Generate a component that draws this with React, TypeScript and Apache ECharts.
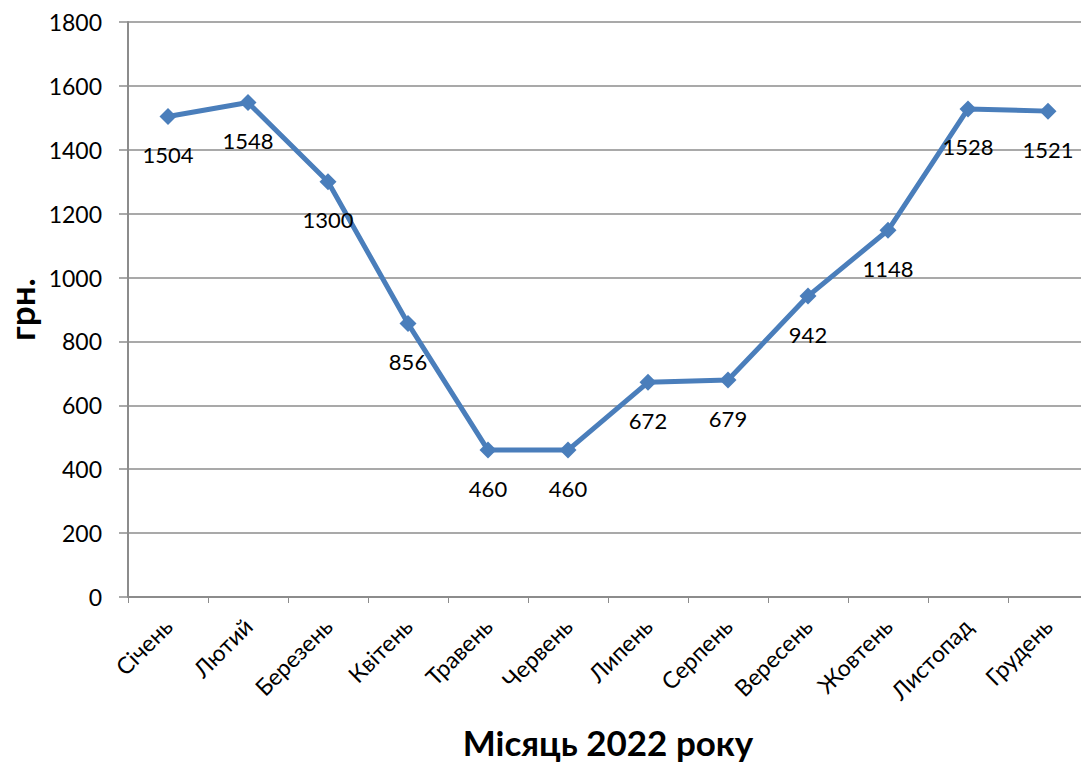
import React, { useEffect, useRef } from "react";
import * as echarts from "echarts";

const months = [
  "Січень",
  "Лютий",
  "Березень",
  "Квітень",
  "Травень",
  "Червень",
  "Липень",
  "Серпень",
  "Вересень",
  "Жовтень",
  "Листопад",
  "Грудень",
];
const prices = [1504, 1548, 1300, 856, 460, 460, 672, 679, 942, 1148, 1528, 1521];
const yTicks = { min: 0, max: 1800, interval: 200 };
const xTitle = "Місяць 2022 року";
const yTitle = "грн.";

const FONT = "Lato, 'Open Sans', sans-serif";

export default function App() {
  const ref = useRef<HTMLDivElement>(null);
  useEffect(() => {
    if (!ref.current) return;
    const chart = echarts.init(ref.current, undefined, { renderer: "svg" });
    chart.setOption({
      animation: false,
      backgroundColor: "#ffffff",
      textStyle: { fontFamily: FONT },
      grid: {
        left: 128,
        top: 22,
        width: 960,
        height: 575,
        containLabel: false,
        outerBoundsMode: "none",
      },
      xAxis: {
        type: "category",
        data: months,
        boundaryGap: true,
        name: xTitle,
        nameLocation: "middle",
        nameGap: 127,
        nameMoveOverlap: false,
        nameTextStyle: { fontFamily: FONT, fontSize: 35, fontWeight: "bold", color: "#000" },
        axisLine: { lineStyle: { color: "#8c8c8c", width: 2 } },
        axisTick: { show: true, alignWithLabel: false, length: 6, lineStyle: { color: "#8c8c8c" } },
        axisLabel: {
          rotate: 45,
          margin: 25,
          fontFamily: FONT,
          fontSize: 23,
          color: "#000",
          interval: 0,
        },
        splitLine: { show: false },
      },
      yAxis: {
        type: "value",
        min: yTicks.min,
        max: yTicks.max,
        interval: yTicks.interval,
        name: yTitle,
        nameLocation: "middle",
        nameGap: 90,
        nameRotate: 90,
        nameMoveOverlap: false,
        nameTextStyle: { fontFamily: FONT, fontSize: 35, fontWeight: "bold", color: "#000" },
        axisLine: { show: true, lineStyle: { color: "#8c8c8c", width: 2 } },
        axisTick: { show: true, length: 9, lineStyle: { color: "#8c8c8c", width: 1.5 } },
        axisLabel: {
          fontFamily: FONT,
          fontSize: 23,
          color: "#000",
          margin: 26,
          formatter: (v: number) => String(v),
        },
        splitLine: { show: true, lineStyle: { color: "#8c8c8c", width: 1.5 } },
      },
      series: [
        {
          type: "line",
          data: prices,
          symbol: "diamond",
          symbolSize: 17,
          itemStyle: { color: "#4a7ebb" },
          lineStyle: { color: "#4a7ebb", width: 5 },
          label: {
            show: true,
            position: "inside",
            offset: [0, 38],
            fontFamily: FONT,
            fontSize: 22,
            color: "#000",
          },
        },
      ],
    });
    return () => chart.dispose();
  }, []);
  return (
    <div
      ref={ref}
      style={{ position: "fixed", left: 0, top: 0, width: 1081, height: 766, background: "#fff" }}
    />
  );
}
